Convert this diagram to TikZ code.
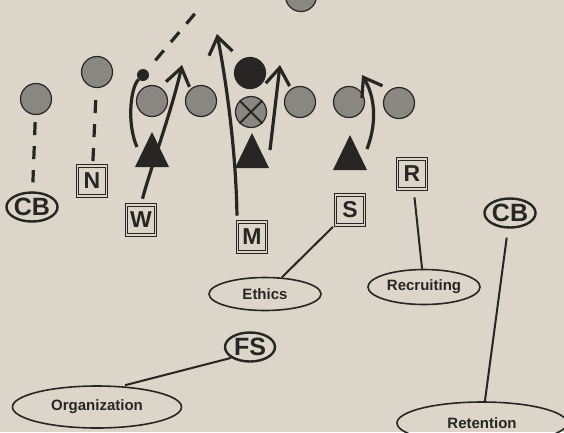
\documentclass[tikz,border=0pt]{standalone}
\usepackage{fontspec}
\setmainfont{Liberation Sans}
\usetikzlibrary{arrows.meta,shapes.geometric}
\definecolor{paper}{RGB}{219,213,202}
\definecolor{ink}{RGB}{40,38,36}
\definecolor{halftone}{RGB}{138,135,131}

\begin{document}
\begin{tikzpicture}[x=1pt,y=-1pt,
  player/.style={circle,draw=ink,line width=1.2pt,fill=halftone,minimum size=31pt,inner sep=0pt},
  posbox/.style={draw=ink,double=paper,double distance=1.3pt,line width=0.9pt,minimum width=29pt,minimum height=30pt,inner sep=0pt,text=ink,font=\bfseries\fontsize{23}{23}\selectfont},
  tag/.style={ellipse,draw=ink,line width=2.4pt,minimum width=50pt,minimum height=29pt,inner sep=0pt,text=ink,font=\bfseries\fontsize{25}{25}\selectfont},
  role/.style={ellipse,draw=ink,line width=1.6pt,inner sep=0pt,text=ink,font=\bfseries\fontsize{15}{15}\selectfont},
  route/.style={draw=ink,line width=3.2pt,-{Straight Barb[length=17pt,width=24pt]}},
  drop/.style={draw=ink,line width=3.2pt,dash pattern=on 13pt off 11pt},
  tie/.style={draw=ink,line width=2pt}]

\fill[paper] (0,0) rectangle (564,432);
\clip (0,0) rectangle (564,432);

% offense
\foreach \n/\x/\y in {c1/36/99, c2/97/72, c3/152/101, c4/201/101, c5/300/102, c6/349/102, c7/399/103, ctop/301/-4}
   \node[player] (\n) at (\x,\y) {};
\node[player,fill=ink] (blk) at (250,73) {};
\node[player] (ctr) at (251,112) {};
\draw[ink,line width=2pt] (ctr.45) -- (ctr.225) (ctr.135) -- (ctr.315);
\node[circle,fill=ink,minimum size=12pt,inner sep=0pt] (dot) at (143,75) {};

% defensive line
\foreach \x/\y in {152/132, 252/133, 350/135}
   \fill[ink] (\x,\y) -- ++(17,35) -- ++(-34,0) -- cycle;

% positions
\node[posbox] (nbox) at (92,181) {N};
\node[posbox] (wbox) at (141,220) {W};
\node[posbox] (mbox) at (252,237) {M};
\node[posbox] (sbox) at (350,210) {S};
\node[posbox] (rbox) at (412,174) {R};
\node[tag] (cbl) at (32,207) {CB};
\node[tag] (cbr) at (510,213) {CB};
\node[tag] (fs) at (250,347) {FS};

% labels
\node[role,minimum width=112pt,minimum height=33pt] (ethics) at (265,294) {Ethics};
\node[role,minimum width=112pt,minimum height=35pt] (recruit) at (424,287) {Recruiting};
\node[role,minimum width=169pt,minimum height=42pt] (org) at (97,407) {Organization};
\node[role,minimum width=170pt,minimum height=42pt] (retain) at (482,423) {Retention};

% dashed
\coordinate (dashend) at (198,10);
\draw[drop,shorten <=13pt] (dot) -- (dashend);
\draw[drop,shorten <=7pt,shorten >=9pt] (c1) -- (cbl);
\draw[drop,shorten <=12pt,shorten >=4pt] (c2) -- (nbox);

% routes
\coordinate (wtip) at (182,65);
\coordinate (mtip) at (217,34);
\coordinate (a3s) at (270,150);
\coordinate (a3t) at (280,65);
\coordinate (a4s) at (367,149);
\coordinate (a4t) at (362,75);
\coordinate (dend) at (137,147);
\draw[draw=ink,line width=3.2pt] (dot) .. controls (130,88) and (127,125) .. (dend);
\draw[route,shorten <=6pt] (wbox.north) .. controls (150,170) and (172,110) .. (wtip);
\draw[route,shorten <=6pt] (mbox.north west) .. controls (236,150) and (226,80) .. (mtip);
\draw[route] (a3s) -- (a3t);
\draw[route] (a4s) .. controls (378,120) and (374,95) .. (a4t);

% ties
\draw[tie,shorten <=3pt] (sbox) -- (ethics);
\draw[tie,shorten <=8pt] (rbox) -- (recruit);
\draw[tie,shorten <=9pt] (cbr) -- (retain);
\draw[tie] (fs.210) -- ([xshift=28pt]org.north);
\end{tikzpicture}
\end{document}
